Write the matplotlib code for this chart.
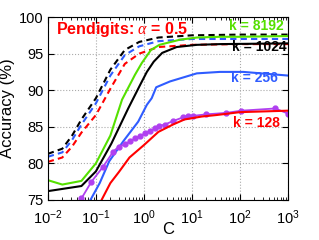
import numpy as np
import matplotlib
matplotlib.use('Agg')
from matplotlib import pyplot as plt

plt.rcParams['font.family'] = ['Liberation Sans', 'DejaVu Sans']
plt.rcParams['mathtext.fontset'] = 'custom'
plt.rcParams['mathtext.rm'] = 'Liberation Sans'
plt.rcParams['mathtext.it'] = 'Liberation Serif:italic'

# dashed curves (same C grid)
C_dash = [0.01, 0.02, 0.032, 0.05, 0.1, 0.2, 0.4, 0.8, 2, 10, 100, 1000]
acc_dash_1024 = [81.3, 82.0, 83.8, 86.0, 88.9, 92.8, 95.5, 96.6, 97.2, 97.5, 97.6, 97.6]
acc_dash_256 = [80.9, 81.5, 83.2, 85.3, 88.2, 92.0, 94.8, 96.0, 96.7, 97.0, 97.0, 97.0]
acc_dash_128 = [80.2, 80.8, 82.3, 84.2, 86.6, 90.2, 93.6, 95.0, 95.9, 96.2, 96.3, 96.3]

# solid curves
C_8192 = [0.01, 0.02, 0.05, 0.1, 0.2, 0.35, 0.65, 0.9, 1.4, 2.1, 5.6, 12.6, 38, 100, 1000]
acc_8192 = [77.7, 77.1, 77.6, 80.0, 83.8, 88.7, 92.1, 93.7, 95.5, 96.2, 96.9, 97.2, 97.3, 97.3, 97.4]

C_1024 = [0.01, 0.05, 0.1, 0.21, 0.47, 0.83, 1.15, 1.6, 2.4, 4.8, 12.6, 38, 1000]
acc_1024 = [76.2, 76.9, 78.9, 82.7, 87.5, 90.7, 92.5, 93.9, 95.1, 95.9, 96.2, 96.3, 96.4]

C_256 = [0.07, 0.12, 0.19, 0.37, 0.76, 1.15, 1.45, 1.8, 3.5, 12.6, 38, 117, 1000]
acc_256 = [74.5, 77.3, 80.3, 83.0, 85.7, 88.0, 88.9, 90.4, 91.2, 92.3, 92.5, 92.5, 92.0]

C_128 = [0.12, 0.2, 0.3, 0.5, 1, 2, 4, 7, 16, 32, 100, 316, 1000]
acc_128 = [74.5, 77.3, 78.8, 80.8, 82.5, 84.3, 85.3, 86.0, 86.4, 86.6, 87.0, 87.1, 87.2]

# purple curve with markers
C_pur = [0.05, 0.081, 0.14, 0.23, 0.3, 0.4, 0.51, 0.65, 0.83, 1.05, 1.33, 1.7,
         2.1, 2.7, 4.1, 6.6, 8.3, 10.7, 20, 52, 107, 537, 1000]
acc_pur = [75.2, 77.5, 79.5, 81.6, 82.3, 82.6, 83.0, 83.4, 83.7, 84.1, 84.4, 84.8,
           85.1, 85.3, 85.8, 86.3, 86.5, 86.5, 86.7, 86.9, 87.2, 87.5, 86.8]

green = '#55e000'
blue = '#2f5cff'
purple = '#b040f0'

fig = plt.figure(figsize=(3.19, 2.40), dpi=100)
ax = fig.add_axes([0.150, 0.167, 0.753, 0.762])

dash = (0, (3, 2))
ax.plot(C_dash, acc_dash_1024, color='black', linestyle=dash, lw=1.5)
ax.plot(C_dash, acc_dash_256, color=blue, linestyle=dash, lw=1.5)
ax.plot(C_dash, acc_dash_128, color='red', linestyle=dash, lw=1.5)

ax.plot(C_8192, acc_8192, color=green, lw=1.5)
ax.plot(C_1024, acc_1024, color='black', lw=1.5)
ax.plot(C_256, acc_256, color=blue, lw=1.5)
ax.plot(C_pur, acc_pur, color=purple, lw=1.3, marker='o', ms=3.5)
ax.plot(C_128, acc_128, color='red', lw=1.5)

ax.set_xscale('log')
ax.set_xlim(1e-2, 1e3)
ax.set_ylim(75, 100)
ax.set_yticks([75, 80, 85, 90, 95, 100])
ax.set_xticks([1e-2, 1e-1, 1e0, 1e1, 1e2, 1e3])
ax.grid(True, which='major', linestyle=':', color='#aaaaaa', lw=0.8)
ax.tick_params(which='both', direction='in', top=True, right=True, labelsize=10.5)
ax.tick_params(which='major', length=4, pad=3)
ax.tick_params(axis='x', which='major', pad=6)
ax.tick_params(which='minor', length=2)

ax.set_xlabel('C', fontsize=12)
ax.set_ylabel('Accuracy (%)', fontsize=12)
ax.xaxis.set_label_coords(0.5, -0.12)
ax.yaxis.set_label_coords(-0.135, 0.5)

ax.text(0.035, 0.93, r'Pendigits: $\mathit{\alpha}$ = 0.5', transform=ax.transAxes,
        color='red', fontsize=11.5, fontweight='bold', va='center', ha='left')
ax.text(0.983, 0.951, 'k = 8192', transform=ax.transAxes, color=green,
        fontsize=10, fontweight='bold', va='center', ha='right')
ax.text(0.996, 0.836, 'k = 1024', transform=ax.transAxes, color='black',
        fontsize=10, fontweight='bold', va='center', ha='right')
ax.text(0.958, 0.667, 'k = 256', transform=ax.transAxes, color=blue,
        fontsize=10, fontweight='bold', va='center', ha='right')
ax.text(0.967, 0.42, 'k = 128', transform=ax.transAxes, color='red',
        fontsize=10, fontweight='bold', va='center', ha='right')

plt.savefig('out.png', dpi=100)
